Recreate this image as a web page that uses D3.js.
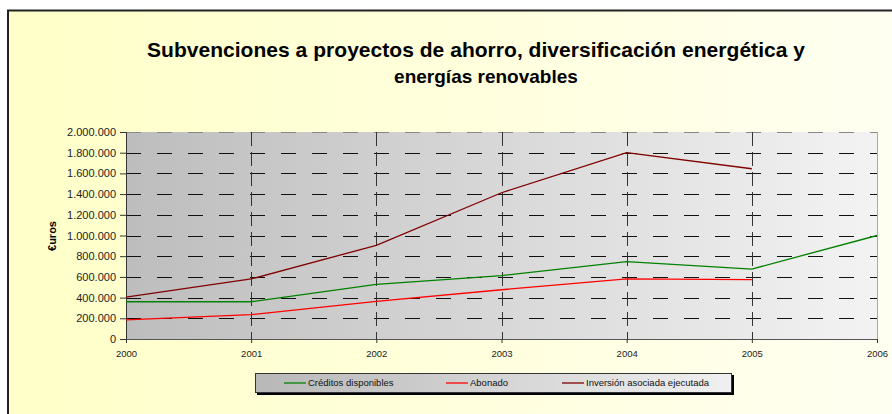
<!DOCTYPE html>
<html>
<head>
<meta charset="utf-8">
<script src="https://cdn.jsdelivr.net/npm/d3@7"></script>
<style>
  body { margin: 0; background: #fff; }
  svg { display: block; font-family: "Liberation Sans", Arial, sans-serif; }
</style>
</head>
<body>
<div class="chart"></div>
<script>
// data
var years = [2000, 2001, 2002, 2003, 2004, 2005, 2006];
var creditos = [360000, 360000, 528000, 612000, 747000, 676000, 1000000];
var abonado = [184000, 235000, 364000, 476000, 580000, 573000];
var inversion = [405000, 580000, 905000, 1413000, 1800000, 1645000];
var seriesNames = ["Créditos disponibles", "Abonado", "Inversión asociada ejecutada"];
var seriesColors = ["#008000", "#ff0000", "#800000"];
var yTicks = [0, 200000, 400000, 600000, 800000, 1000000, 1200000, 1400000, 1600000, 1800000, 2000000];

var svgWidth = 892;
var svgHeight = 414;

var margin = { top: 132, right: 15, bottom: 75, left: 126 };
var width = 877 - margin.left;
var height = 339 - margin.top;

var svg = d3.select(".chart")
  .append("svg")
  .attr("width", svgWidth)
  .attr("height", svgHeight);

var defs = svg.append("defs");

var bgGrad = defs.append("linearGradient").attr("id", "bgGrad");
bgGrad.append("stop").attr("offset", "0%").attr("stop-color", "#ffffc8");
bgGrad.append("stop").attr("offset", "100%").attr("stop-color", "#fffff2");

var plotGrad = defs.append("linearGradient").attr("id", "plotGrad");
plotGrad.append("stop").attr("offset", "0%").attr("stop-color", "#bdbdbd");
plotGrad.append("stop").attr("offset", "100%").attr("stop-color", "#f3f3f3");

var legGrad = defs.append("linearGradient").attr("id", "legGrad");
legGrad.append("stop").attr("offset", "0%").attr("stop-color", "#b8b8b8");
legGrad.append("stop").attr("offset", "100%").attr("stop-color", "#f0f0f0");

// outer chart area
svg.append("rect")
  .attr("x", 8)
  .attr("y", 10.5)
  .attr("width", 900)
  .attr("height", 420)
  .attr("fill", "url(#bgGrad)")
  .attr("stroke", "#222")
  .attr("stroke-width", 2);

// title
var title = svg.append("text")
  .attr("text-anchor", "middle")
  .style("font-weight", "bold")
  .attr("fill", "#000");
title.append("tspan")
  .attr("x", 476).attr("y", 57)
  .style("font-size", "21px")
  .attr("textLength", 658)
  .attr("lengthAdjust", "spacing")
  .text("Subvenciones a proyectos de ahorro, diversificación energética y");
title.append("tspan")
  .attr("x", 486).attr("y", 83)
  .style("font-size", "19px")
  .text("energías renovables");

var chartGroup = svg.append("g")
  .attr("transform", `translate(${margin.left}, ${margin.top})`);

var xScale = d3.scaleLinear()
  .domain([2000, 2006])
  .range([0, width]);

var yScale = d3.scaleLinear()
  .domain([0, 2000000])
  .range([height, 0]);

// plot background
chartGroup.append("rect")
  .attr("width", width)
  .attr("height", height)
  .attr("fill", "url(#plotGrad)");

// horizontal grid
chartGroup.append("g")
  .selectAll("line")
  .data(yTicks.slice(1))
  .enter()
  .append("line")
  .attr("x1", 0)
  .attr("x2", width)
  .attr("y1", d => Math.round(yScale(d)) + 0.5)
  .attr("y2", d => Math.round(yScale(d)) + 0.5)
  .attr("stroke", d => d == 2000000 ? "#888" : "#111")
  .attr("stroke-dasharray", "15,16");

// vertical grid
chartGroup.append("g")
  .selectAll("line")
  .data(years.slice(1, -1))
  .enter()
  .append("line")
  .attr("x1", d => Math.round(xScale(d)) + 0.5)
  .attr("x2", d => Math.round(xScale(d)) + 0.5)
  .attr("y1", 0)
  .attr("y2", height)
  .attr("stroke", "#333")
  .attr("stroke-dasharray", "14,6");

// right border of plot
chartGroup.append("line")
  .attr("x1", width + 0.5).attr("x2", width + 0.5)
  .attr("y1", 0).attr("y2", height)
  .attr("stroke", "#aaa");

// axes
var fmt = d => d3.format(",")(d).replace(/,/g, ".");

var leftAxis = d3.axisLeft(yScale)
  .tickValues(yTicks)
  .tickFormat(fmt)
  .tickSize(6)
  .tickPadding(4);

var bottomAxis = d3.axisBottom(xScale)
  .tickValues(years)
  .tickFormat(d3.format("d"))
  .tickSize(4)
  .tickPadding(7);

var yAxis = chartGroup.append("g").call(leftAxis);
yAxis.selectAll("text").style("font-size", "11px").attr("fill", "#222");
yAxis.selectAll("line").attr("stroke", "#333");
yAxis.select(".domain").attr("stroke", "#333");

var xAxis = chartGroup.append("g")
  .attr("transform", `translate(0, ${height})`)
  .call(bottomAxis);
xAxis.selectAll("text").style("font-size", "9.5px").attr("fill", "#222");
xAxis.selectAll("line").attr("stroke", "#333");
xAxis.select(".domain").attr("stroke", "#555");

// y label
svg.append("text")
  .attr("transform", "translate(56, 236) rotate(-90)")
  .attr("text-anchor", "middle")
  .style("font-weight", "bold")
  .style("font-size", "11px")
  .text("€uros");

// lines
var allSeries = [creditos, abonado, inversion];
var line = d3.line()
  .x((d, i) => xScale(years[i]))
  .y(d => yScale(d));

chartGroup.selectAll(".series")
  .data(allSeries)
  .enter()
  .append("path")
  .classed("series", true)
  .attr("d", d => line(d))
  .attr("fill", "none")
  .attr("stroke", (d, i) => seriesColors[i])
  .attr("stroke-width", 1.3);

// legend
var legend = svg.append("g").attr("transform", "translate(255, 373)");
legend.append("rect")
  .attr("x", 2).attr("y", 2)
  .attr("width", 477).attr("height", 20)
  .attr("fill", "#000");
legend.append("rect")
  .attr("x", 0.5).attr("y", 0.5)
  .attr("width", 476).attr("height", 19)
  .attr("fill", "url(#legGrad)")
  .attr("stroke", "#333");

var legendX = [29, 191, 307];
var items = legend.selectAll(".item")
  .data(seriesNames)
  .enter()
  .append("g")
  .attr("transform", (d, i) => `translate(${legendX[i]}, 10)`);
items.append("line")
  .attr("x1", 0).attr("x2", 22)
  .attr("stroke", (d, i) => seriesColors[i])
  .attr("stroke-width", 1.3);
items.append("text")
  .attr("x", 24)
  .attr("dy", "0.35em")
  .style("font-size", "9.5px")
  .attr("fill", "#111")
  .text(d => d);
</script>
</body>
</html>
